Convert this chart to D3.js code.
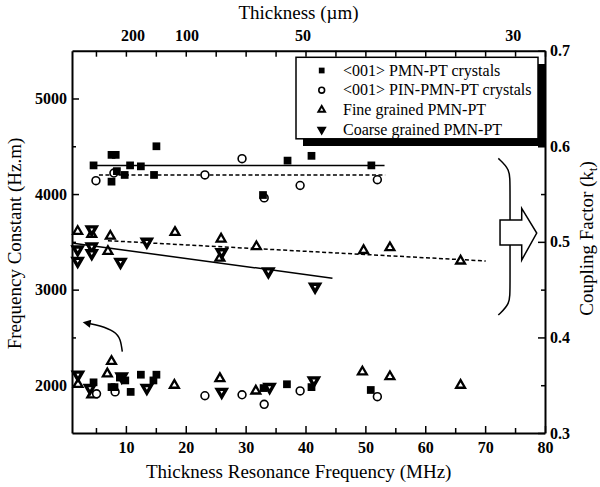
<!DOCTYPE html>
<html>
<head>
<meta charset="utf-8">
<script src="https://cdn.jsdelivr.net/npm/d3@7"></script>
<style>
  body { margin: 0; background: #fff; }
  svg { display: block; font-family: "Liberation Serif", "Times New Roman", serif; }
</style>
</head>
<body>
<svg id="chart" width="600" height="487"></svg>
<script>
// upper group of points = frequency constant (left axis), lower group = coupling factor (right axis)
const seriesLabels = ["<001> PMN-PT crystals", "<001> PIN-PMN-PT crystals", "Fine grained PMN-PT", "Coarse grained PMN-PT"];

const pmnFreq = [4.6, 7.6, 7.6, 8.3, 8.5, 9.8, 10.7, 12.5, 14.7, 15.1, 32.9, 37.0, 41.0, 51.0];
const pmnConst = [4300, 4410, 4130, 4410, 4240, 4200, 4300, 4290, 4200, 4500, 3990, 4350, 4400, 4300];
const pmnKFreq = [4.6, 7.6, 8.1, 9.0, 9.9, 10.8, 12.5, 14.6, 15.1, 33.0, 36.9, 41.0, 50.9];
const pmnK = [0.353, 0.348, 0.348, 0.358, 0.355, 0.343, 0.361, 0.355, 0.361, 0.347, 0.351, 0.348, 0.345];

const pinFreq = [5.0, 8.0, 23.2, 29.4, 33.1, 39.1, 52.0];
const pinConst = [4140, 4220, 4200, 4370, 3960, 4090, 4150];
const pinKFreq = [5.1, 8.2, 23.2, 29.4, 33.1, 39.1, 52.0];
const pinK = [0.341, 0.343, 0.339, 0.340, 0.330, 0.344, 0.338];

const fineFreq = [1.95, 4.3, 7.0, 7.4, 18.2, 25.7, 25.9, 31.8, 49.7, 54.1, 65.9];
const fineConst = [3610, 3580, 3400, 3560, 3600, 3330, 3530, 3450, 3410, 3440, 3300];
const fineKFreq = [2.0, 4.3, 6.9, 7.6, 18.1, 25.7, 31.7, 49.5, 54.1, 65.9];
const fineK = [0.351, 0.340, 0.362, 0.375, 0.350, 0.357, 0.344, 0.364, 0.359, 0.350];

const coarseFreq = [1.95, 1.95, 4.3, 4.3, 4.3, 9.1, 13.5, 26.0, 33.8, 41.6];
const coarseConst = [3420, 3300, 3630, 3450, 3380, 3290, 3500, 3390, 3190, 3030];
const coarseKFreq = [2.0, 4.0, 9.3, 13.5, 26.0, 34.0, 41.4];
const coarseK = [0.361, 0.347, 0.359, 0.347, 0.343, 0.348, 0.355];

// trend lines through the frequency constant groups
const pmnFitFreq = [4.1, 53.2], pmnFitConst = [4300, 4300];
const pinFitFreq = [5.5, 53.3], pinFitConst = [4200, 4200];
const fineFitFreq = [7.0, 70.1], fineFitConst = [3512, 3300];
const coarseFitFreq = [1.2, 44.5], coarseFitConst = [3485, 3120];

const xTicks = [10, 20, 30, 40, 50, 60, 70, 80];
const xMinorTicks = [5, 15, 25, 35, 45, 55, 65, 75];
const constTicks = [2000, 3000, 4000, 5000];
const constMinorTicks = [2500, 3500, 4500];
const kTicks = [0.3, 0.4, 0.5, 0.6, 0.7];
const kMinorTicks = [0.35, 0.45, 0.55, 0.65];
const thicknessLabels = ["200", "100", "50", "30"];
const thicknessAt = [11.2, 20.2, 39.6, 74.7]; // MHz position of each thickness label

const svg = d3.select("#chart");
const x = d3.scaleLinear().domain([1, 80]).range([72, 545]);
const yN = d3.scaleLinear().domain([1500, 5500]).range([433, 50.7]);
const yK = d3.scaleLinear().domain([0.3, 0.7]).range([433, 50.7]);

function styleAxis(g) {
  g.attr("font-family", "'Liberation Serif', 'Times New Roman', serif")
    .attr("font-size", 16)
    .attr("font-weight", "bold");
  g.select(".domain").attr("stroke-width", 2);
  g.selectAll(".tick line").attr("stroke-width", 1.5);
}
function minorAxis(axis, tr) {
  const g = svg.append("g").attr("transform", tr).call(axis.tickFormat("").tickSizeOuter(0));
  g.select(".domain").remove();
  g.selectAll(".tick line").attr("stroke-width", 1.5);
}

// axes
svg.append("g").attr("transform", "translate(0,433)")
  .call(d3.axisBottom(x).tickValues(xTicks).tickSize(-7).tickSizeOuter(0).tickPadding(9))
  .call(styleAxis);
minorAxis(d3.axisBottom(x).tickValues(xMinorTicks).tickSize(-5), "translate(0,433)");

svg.append("g").attr("transform", "translate(0,50.7)")
  .call(d3.axisTop(x).tickValues(xMinorTicks.concat(xTicks)).tickSize(-6).tickSizeOuter(0).tickFormat(""))
  .call(styleAxis);

svg.append("g").attr("transform", "translate(72,0)")
  .call(d3.axisLeft(yN).tickValues(constTicks).tickSize(-7).tickSizeOuter(0).tickPadding(5).tickFormat(d3.format("d")))
  .call(styleAxis);
minorAxis(d3.axisLeft(yN).tickValues(constMinorTicks).tickSize(-4), "translate(72,0)");

svg.append("g").attr("transform", "translate(545,0)")
  .call(d3.axisRight(yK).tickValues(kTicks).tickSize(-7).tickSizeOuter(0).tickPadding(5).tickFormat(d3.format(".1f")))
  .call(styleAxis);
minorAxis(d3.axisRight(yK).tickValues(kMinorTicks).tickSize(-4), "translate(545,0)");

// thickness labels on the top axis
svg.append("g").selectAll("text").data(thicknessLabels).enter().append("text")
  .attr("x", (d, i) => x(thicknessAt[i]))
  .attr("y", 41)
  .attr("text-anchor", "middle")
  .attr("font-size", 16)
  .attr("font-weight", "bold")
  .text(d => d);

// axis titles
svg.append("text").attr("x", 298.5).attr("y", 18.5).attr("text-anchor", "middle")
  .attr("font-size", 19).text("Thickness (\u00b5m)");
svg.append("text").attr("x", 298.7).attr("y", 478).attr("text-anchor", "middle")
  .attr("font-size", 19).text("Thickness Resonance Frequency (MHz)");
svg.append("text").attr("transform", "translate(21,243.5) rotate(-90)").attr("text-anchor", "middle")
  .attr("font-size", 19).text("Frequency Constant (Hz.m)");
const kTitle = svg.append("text").attr("transform", "translate(592.5,238.5) rotate(-90)")
  .attr("text-anchor", "middle").attr("font-size", 19);
kTitle.append("tspan").text("Coupling Factor (k");
kTitle.append("tspan").attr("font-size", 13).attr("dy", 4).text("t");
kTitle.append("tspan").attr("dy", -4).text(")");

// trend lines
const line = d3.line().x(d => x(d[0])).y(d => yN(d[1]));
const fits = [
  [pmnFitFreq, pmnFitConst, null],
  [pinFitFreq, pinFitConst, "4,2.5"],
  [fineFitFreq, fineFitConst, "4,2.5"],
  [coarseFitFreq, coarseFitConst, null]
];
fits.forEach(([fx, fy, dash]) => {
  svg.append("path")
    .datum(fx.map((d, i) => [d, fy[i]]))
    .attr("d", line)
    .attr("fill", "none")
    .attr("stroke", "#000")
    .attr("stroke-width", 1.5)
    .attr("stroke-dasharray", dash);
});

// markers
const shapes = {
  square: { type: d3.symbolSquare, size: 60, fill: "#000", stroke: "none", sw: 0, rot: 0 },
  circle: { type: d3.symbolCircle, size: 48, fill: "#fff", stroke: "#000", sw: 1.6, rot: 0 },
  up: { type: d3.symbolTriangle, size: 34, fill: "#fff", stroke: "#000", sw: 2.3, rot: 0 },
  down: { type: d3.symbolTriangle, size: 34, fill: "#fff", stroke: "#000", sw: 3.4, rot: 180 }
};
function addMarks(xs, ys, yScale, kind, scale = 1) {
  const s = shapes[kind];
  svg.append("g").selectAll("path")
    .data(xs.map((d, i) => [d, ys[i]]))
    .enter().append("path")
    .attr("transform", d => `translate(${x(d[0])},${yScale(d[1])}) rotate(${s.rot})`)
    .attr("d", d3.symbol().type(s.type).size(s.size * scale))
    .attr("fill", s.fill)
    .attr("stroke", s.stroke)
    .attr("stroke-width", s.sw)
    .attr("stroke-linejoin", "miter");
}
addMarks(fineFreq, fineConst, yN, "up");
addMarks(coarseFreq, coarseConst, yN, "down");
addMarks(pinFreq, pinConst, yN, "circle");
addMarks(pmnFreq, pmnConst, yN, "square");
addMarks(fineKFreq, fineK, yK, "up");
addMarks(coarseKFreq, coarseK, yK, "down");
addMarks(pinKFreq, pinK, yK, "circle");
addMarks(pmnKFreq, pmnK, yK, "square");

// curved arrow pointing at the frequency constant axis
const arrowPts = [[9.4, 2351], [9.02, 2473], [7.9, 2560], [5.68, 2619], [3.84, 2646]];
svg.append("defs").append("marker")
  .attr("id", "head").attr("viewBox", "0 0 10 10").attr("refX", 2).attr("refY", 5)
  .attr("markerWidth", 10).attr("markerHeight", 8).attr("markerUnits", "userSpaceOnUse")
  .attr("orient", "auto")
  .append("path").attr("d", "M0,0 L10,5 L0,10 Z").attr("fill", "#000");
svg.append("path")
  .datum(arrowPts)
  .attr("d", d3.line().x(d => x(d[0])).y(d => yN(d[1])).curve(d3.curveNatural))
  .attr("fill", "none").attr("stroke", "#000").attr("stroke-width", 1.5)
  .attr("marker-end", "url(#head)");

// bracket and block arrow pointing at the coupling factor axis
const bracketPts = [[72.2, 0.5873], [74.16, 0.576], [74.16, 0.56], [74.16, 0.45], [74.16, 0.435], [72.2, 0.4234]];
const kLine = d3.line().x(d => x(d[0])).y(d => yK(d[1]));
svg.append("path").datum(bracketPts)
  .attr("d", kLine.curve(d3.curveBasis))
  .attr("fill", "none").attr("stroke", "#000").attr("stroke-width", 1.5);
const blockArrow = [[72.49, 0.5228], [76.11, 0.5228], [76.11, 0.535], [78.62, 0.5092],
  [76.11, 0.481], [76.11, 0.4967], [72.49, 0.4967]];
svg.append("path")
  .attr("d", d3.line().x(d => x(d[0])).y(d => yK(d[1]))(blockArrow) + "Z")
  .attr("fill", "#fff").attr("stroke", "#000").attr("stroke-width", 1.5);

// legend with drop shadow
const legend = svg.append("g");
legend.append("rect").attr("x", 303).attr("y", 64).attr("width", 242).attr("height", 82).attr("fill", "#000");
legend.append("rect").attr("x", 296).attr("y", 57.3).attr("width", 242).attr("height", 81.5)
  .attr("fill", "#fff").attr("stroke", "#000").attr("stroke-width", 1.5);
const legendKinds = ["square", "circle", "up", "down"];
seriesLabels.forEach((label, i) => {
  const cy = 70.5 + i * 19.7;
  const s = shapes[legendKinds[i]];
  legend.append("path")
    .attr("transform", `translate(321.7,${cy}) rotate(${s.rot})`)
    .attr("d", d3.symbol().type(s.type).size(s.size * 0.55))
    .attr("fill", legendKinds[i] === "down" ? "#000" : s.fill)
    .attr("stroke", s.stroke)
    .attr("stroke-width", Math.min(s.sw, 2));
  legend.append("text")
    .attr("x", 343).attr("y", cy + 5)
    .attr("font-size", 16)
    .text(label);
});
</script>
</body>
</html>
